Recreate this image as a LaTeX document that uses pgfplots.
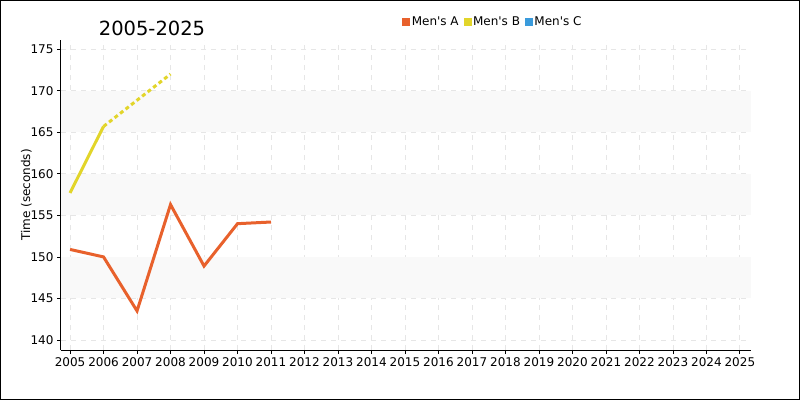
\documentclass[border=0pt]{standalone}
\usepackage{fontspec}
\setmainfont{DejaVu Sans}
\usepackage{pgfplots}
\pgfplotsset{compat=1.18}
\definecolor{MenA}{HTML}{E8612C}
\definecolor{MenB}{HTML}{E2D52A}
\definecolor{MenC}{HTML}{3A9BDC}
\definecolor{GridGray}{HTML}{E6E6E6}
\definecolor{BandGray}{HTML}{F9F9F9}

\begin{document}
\begin{tikzpicture}
  \draw[black, line width=1pt] (0.5pt,0.5pt) rectangle (799.5pt,399.5pt);
  \node[font=\fontsize{19.5}{24}\selectfont] at (152pt,372pt) {2005-2025};
  \begin{axis}[
    at={(61pt,50pt)}, anchor=south west,
    scale only axis, width=690pt, height=310pt,
    xmin=2004.73, xmax=2025.33,
    ymin=138.8, ymax=176.1,
    xtick={2005,...,2025},
    ytick={140,145,...,175},
    x tick label style={/pgf/number format/1000 sep={}},
    tick label style={font=\fontsize{12}{14}\selectfont},
    /pgf/number format/assume math mode=true,
    axis lines=left,
    axis line style={-, black, line width=1pt},
    tick style={black, line width=0.8pt},
    tick align=outside,
    major tick length=4pt,
    grid=major,
    grid style={GridGray, line width=0.8pt, dash pattern=on 5pt off 5pt},
    ylabel={Time (seconds)},
    ylabel style={font=\fontsize{12}{14}\selectfont},
    ylabel shift=-8pt,
    legend style={at={(0.626,1.058)}, anchor=center, draw=none, fill=none,
      font=\fontsize{12}{14}\selectfont, legend columns=3,
      /tikz/every even column/.append style={column sep=3pt}},
    legend cell align=left,
    legend image code/.code={\fill[#1] (0pt,-3.5pt) rectangle (7pt,3.5pt);},
    clip=false,
  ]
    \fill[BandGray] (axis cs:2004.73,165) rectangle (axis cs:2025.33,170);
    \fill[BandGray] (axis cs:2004.73,155) rectangle (axis cs:2025.33,160);
    \fill[BandGray] (axis cs:2004.73,145) rectangle (axis cs:2025.33,150);

    \addlegendimage{MenA}
    \addlegendentry{Men\textquotesingle s A}
    \addlegendimage{MenB}
    \addlegendentry{Men\textquotesingle s B}
    \addlegendimage{MenC}
    \addlegendentry{Men\textquotesingle s C}

    % Men's A
    \addplot[MenA, line width=3pt, forget plot] coordinates {
      (2005,150.9) (2006,150.0) (2007,143.5) (2008,156.3) (2009,148.9) (2010,154.0) (2011,154.2)
    };
    % Men's B
    \addplot[MenB, line width=3pt, forget plot] coordinates {
      (2005,157.7) (2006,165.7)
    };
    \addplot[MenB, line width=3pt, dash pattern=on 4pt off 3pt, forget plot] coordinates {
      (2006,165.7) (2008,172.0)
    };
  \end{axis}
\end{tikzpicture}
\end{document}
